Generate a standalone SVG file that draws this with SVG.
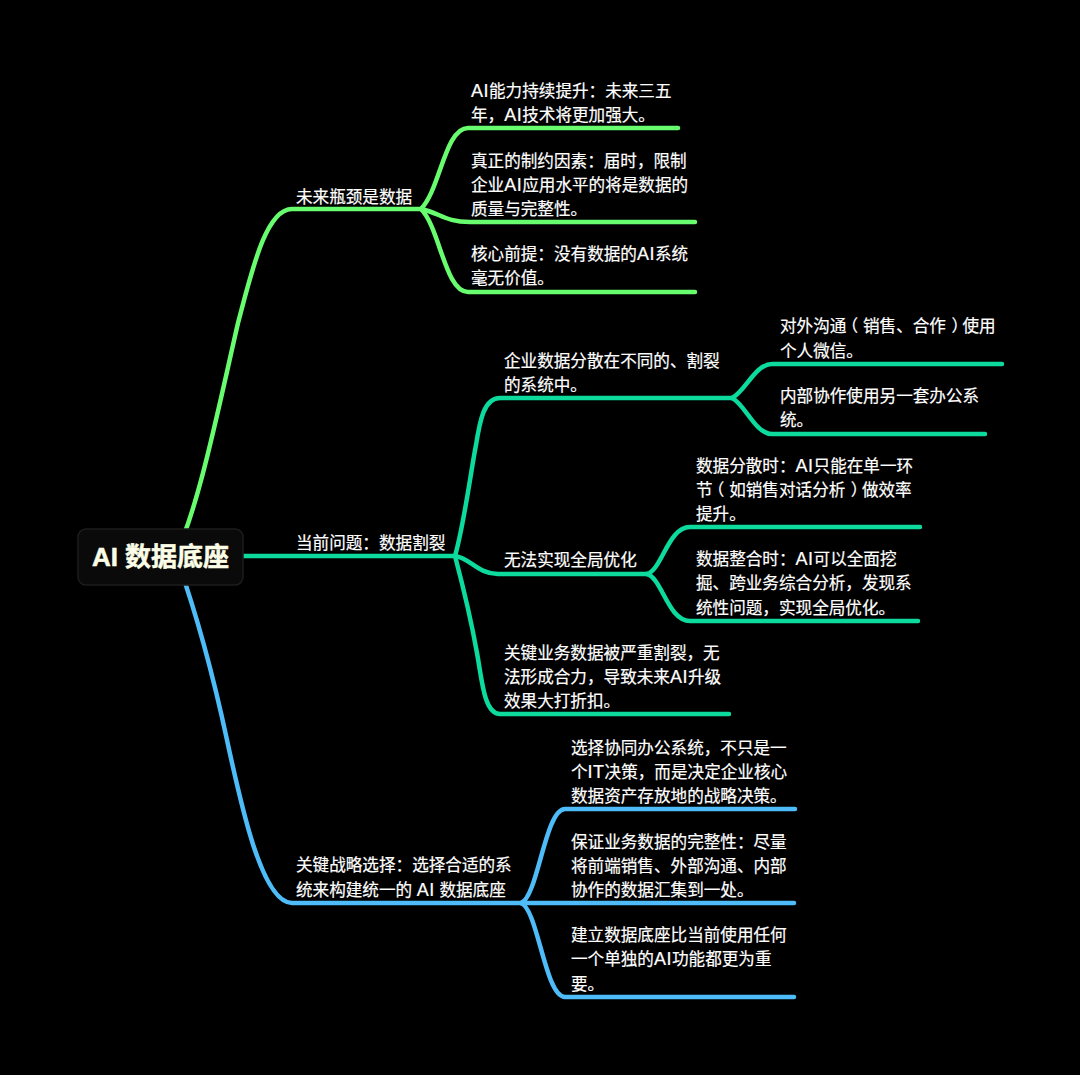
<svg xmlns="http://www.w3.org/2000/svg" width="1080" height="1075" viewBox="0 0 1080 1075">
<style>
text{font-family:"Liberation Sans","Noto Sans CJK SC",sans-serif;font-size:16.6px;fill:#fff;stroke:#fff;stroke-width:.2}
text.root{font-size:26px;font-weight:700;fill:#fbfde6;stroke:#fbfde6;stroke-width:.5}
.a{font-size:18px;letter-spacing:.5px}
.h{font-feature-settings:"halt"}
path{fill:none;stroke-width:4.5;stroke-linecap:round}
.g{stroke:#68fd6e}.t{stroke:#0cdb9d}.b{stroke:#4dbcf8}
</style>
<rect width="1080" height="1075" fill="#000"/>
<g id="connectors">
<path class="g" d="M175 556C198 510 218 410 238 323C252 270 266 209 292 209H421"/>
<path class="g" d="M421 209C440 190 445 128 468 128H678"/>
<path class="g" d="M421 209C440 213 445 222 470 222H695"/>
<path class="g" d="M421 209C440 228 445 292 468 292H695"/>
<path class="t" d="M243 556H455"/>
<path class="t" d="M455 556C464 525 471 470 476 445C480 420 484 398 500 398H732"/>
<path class="t" d="M455 556C470 558 478 574 498 574H647"/>
<path class="t" d="M455 556C464 590 472 625 477 653C482 680 484 714 500 714H729"/>
<path class="t" d="M732 398C745 392 755 364 772 364H1002"/>
<path class="t" d="M732 398C745 404 755 434 772 434H985"/>
<path class="t" d="M647 574C662 570 668 527 690 527H920"/>
<path class="t" d="M647 574C662 578 668 621 690 621H918"/>
<path class="b" d="M178 562C195 610 212 670 227 740C241 805 262 903 292 903H521"/>
<path class="b" d="M521 903C538 897 545 809 565 809H795"/>
<path class="b" d="M521 903H794"/>
<path class="b" d="M521 903C538 909 545 997 565 997H794"/>
</g>
<g id="root"><rect x="78" y="529" width="165" height="56" rx="8" fill="#0a0a0a" stroke="#1d1d1d" stroke-width="1.5"/><text class="root" x="160.500" y="566" text-anchor="middle">AI 数据底座</text></g>
<g id="n1"><text x="296" y="203">未来瓶颈是数据</text></g>
<g id="n11"><text x="471" y="97"><tspan class="a">AI</tspan>能力持续提升：未来三五</text><text x="471" y="121">年，<tspan class="a">AI</tspan>技术将更加强大。</text></g>
<g id="n12"><text x="471" y="167">真正的制约因素：届时，限制</text><text x="471" y="191">企业<tspan class="a">AI</tspan>应用水平的将是数据的</text><text x="471" y="215">质量与完整性。</text></g>
<g id="n13"><text x="471" y="260">核心前提：没有数据的<tspan class="a">AI</tspan>系统</text><text x="471" y="284">毫无价值。</text></g>
<g id="n2"><text x="296" y="549">当前问题：数据割裂</text></g>
<g id="n21"><text x="504" y="367">企业数据分散在不同的、割裂</text><text x="504" y="391">的系统中。</text></g>
<g id="n211"><text x="780" y="332">对外沟通<tspan class="h" dx="3.5">（</tspan><tspan dx="4.8">销售、合作</tspan><tspan class="h" dx="5.5">）</tspan><tspan dx="2.8">使用</tspan></text><text x="780" y="357">个人微信。</text></g>
<g id="n212"><text x="780" y="402">内部协作使用另一套办公系</text><text x="780" y="426">统。</text></g>
<g id="n22"><text x="504" y="566">无法实现全局优化</text></g>
<g id="n221"><text x="696" y="472">数据分散时：<tspan class="a">AI</tspan>只能在单一环</text><text x="696" y="496">节<tspan class="h" dx="3.5">（</tspan><tspan dx="4.8">如销售对话分析</tspan><tspan class="h" dx="5.5">）</tspan><tspan dx="2.8">做效率</tspan></text><text x="696" y="520">提升。</text></g>
<g id="n222"><text x="696" y="565">数据整合时：<tspan class="a">AI</tspan>可以全面挖</text><text x="696" y="589">掘、跨业务综合分析，发现系</text><text x="696" y="614">统性问题，实现全局优化。</text></g>
<g id="n23"><text x="504" y="659">关键业务数据被严重割裂，无</text><text x="504" y="683">法形成合力，导致未来<tspan class="a">AI</tspan>升级</text><text x="504" y="707">效果大打折扣。</text></g>
<g id="n3"><text x="296" y="871">关键战略选择：选择合适的系</text><text x="296" y="896">统来构建统一的 <tspan class="a">AI</tspan> 数据底座</text></g>
<g id="n31"><text x="571" y="754">选择协同办公系统，不只是一</text><text x="571" y="778">个<tspan class="a">IT</tspan>决策，而是决定企业核心</text><text x="571" y="802">数据资产存放地的战略决策。</text></g>
<g id="n32"><text x="571" y="848">保证业务数据的完整性：尽量</text><text x="571" y="872">将前端销售、外部沟通、内部</text><text x="571" y="896">协作的数据汇集到一处。</text></g>
<g id="n33"><text x="571" y="941">建立数据底座比当前使用任何</text><text x="571" y="965">一个单独的<tspan class="a">AI</tspan>功能都更为重</text><text x="571" y="990">要。</text></g>
</svg>
